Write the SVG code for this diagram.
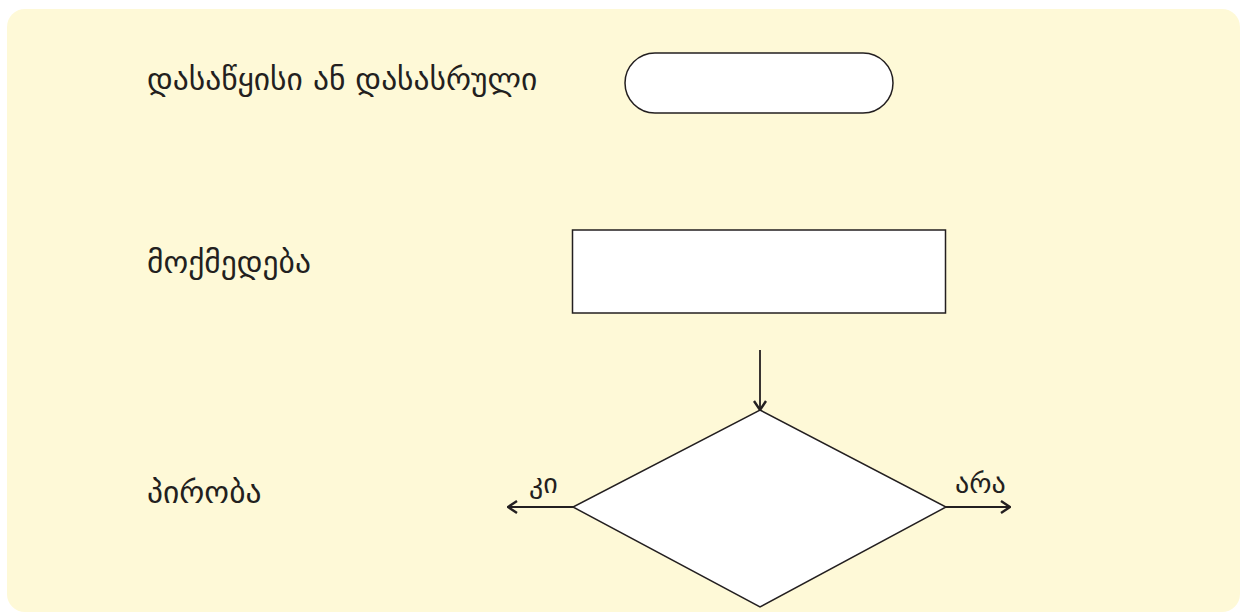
<svg xmlns="http://www.w3.org/2000/svg" width="1246" height="613" viewBox="0 0 1246 613">
<style>
.lbl{font-family:"DejaVu Sans",sans-serif;font-size:31.5px;fill:#231f20}
.sm{font-family:"DejaVu Sans",sans-serif;font-size:28px;fill:#231f20}
.shape{fill:#fff;stroke:#231f20;stroke-width:1.5}
.conn{stroke:#231f20;stroke-width:1.8;fill:none}
</style>
<defs>
<marker id="ah" viewBox="0 0 12 14" refX="11" refY="7" markerWidth="12" markerHeight="14" markerUnits="userSpaceOnUse" orient="auto">
<path d="M2,1 L11,7 L2,13" fill="none" stroke="#231f20" stroke-width="2.4"/>
</marker>
</defs>
<rect x="7" y="9" width="1233" height="603" rx="18" fill="#fef9d7"/>
<text class="lbl" x="147" y="90">დასაწყისი ან დასასრული</text>
<text class="lbl" x="147" y="273">მოქმედება</text>
<text class="lbl" x="147" y="503">პირობა</text>
<g id="terminal"><rect class="shape" x="625" y="53" width="268" height="60" rx="30"/></g>
<g id="process"><rect class="shape" x="572.5" y="230" width="373" height="83" stroke-width="2"/></g>
<g id="decision"><polygon class="shape" points="760,410 946,507 760,607 573,507"/></g>
<g id="connectors">
<line class="conn" x1="760" y1="350" x2="760" y2="410" marker-end="url(#ah)"/>
<line class="conn" x1="573" y1="507" x2="508" y2="507" marker-end="url(#ah)"/>
<line class="conn" x1="946" y1="507" x2="1010" y2="507" marker-end="url(#ah)"/>
</g>
<text class="sm" x="529" y="493">კი</text>
<text class="sm" x="955" y="493">არა</text>
</svg>
